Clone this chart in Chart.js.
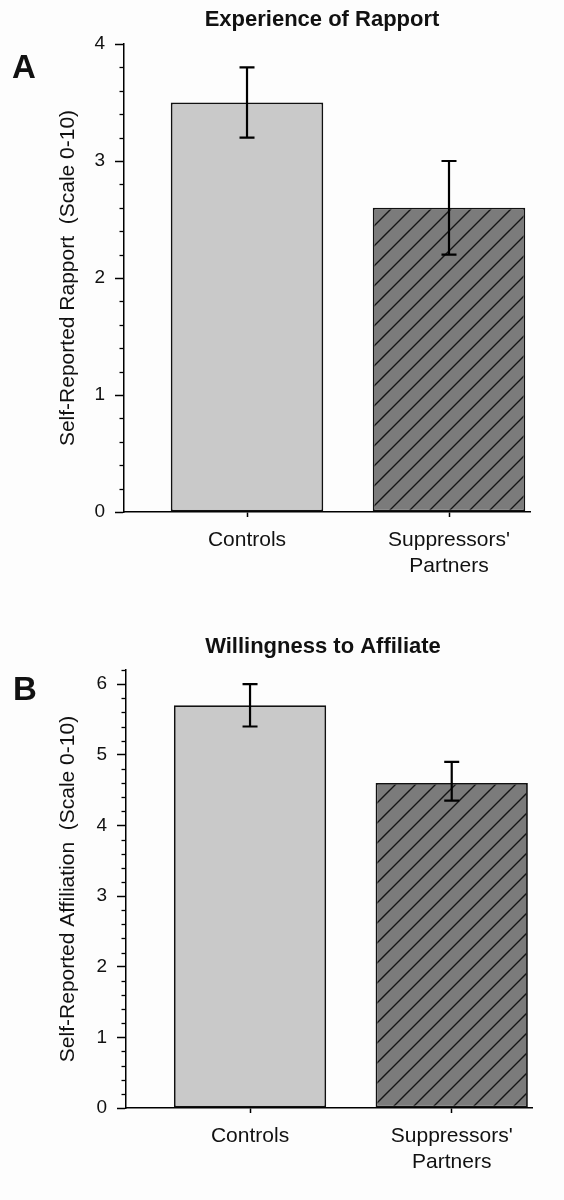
<!DOCTYPE html>
<html><head><meta charset="utf-8">
<script src="https://cdn.jsdelivr.net/npm/chart.js@4"></script>
<style>
html,body{margin:0;padding:0;background:#fdfdfd;}
#wrap{position:relative;width:564px;height:1200px;}
.box{position:absolute;left:0;width:564px;height:600px;}
</style></head><body>
<div id="wrap">
<div class="box" style="top:0"><canvas id="cA"></canvas></div>
<div class="box" style="top:600px"><canvas id="cB"></canvas></div>
</div>
<script>
// ---- data ----
const categories = ["Controls", ["Suppressors'", "Partners"]];
const rapportValues = [3.5, 2.6];
const rapportErrLow = [3.2, 2.2];
const rapportErrHigh = [3.8, 3.0];
const affiliationValues = [5.7, 4.6];
const affiliationErrLow = [5.4, 4.35];
const affiliationErrHigh = [6.0, 4.9];
const rapportTicks = [0, 1, 2, 3, 4];
const affiliationTicks = [0, 1, 2, 3, 4, 5, 6];
const titleA = "Experience of Rapport";
const titleB = "Willingness to Affiliate";
const yTitleA = "Self-Reported Rapport  (Scale 0-10)";
const yTitleB = "Self-Reported Affiliation  (Scale 0-10)";

const FONT = "'Liberation Sans', Arial, Helvetica, sans-serif";

function hatchPattern() {
  const s = 20;
  const c = document.createElement('canvas');
  c.width = s; c.height = s;
  const g = c.getContext('2d');
  g.fillStyle = '#7b7b7b';
  g.fillRect(0, 0, s, s);
  g.strokeStyle = '#151515';
  g.lineWidth = 1.4;
  g.beginPath();
  g.moveTo(-2, s + 2); g.lineTo(s + 2, -2);
  g.moveTo(-2, 2); g.lineTo(2, -2);
  g.moveTo(s - 2, s + 2); g.lineTo(s + 2, s - 2);
  g.stroke();
  return g.createPattern(c, 'repeat');
}

function makeChart(id, values, low, high, majorTicks, yMax, yTitle, title, letter, geo) {
  const isMajor = v => majorTicks.some(t => Math.abs(t - v) < 1e-6);
  const extras = {
    id: 'extras',
    afterDatasetsDraw(chart) {
      const ctx = chart.ctx, y = chart.scales.y;
      const meta = chart.getDatasetMeta(0);
      ctx.save();
      ctx.strokeStyle = '#000';
      ctx.lineWidth = 2.2;
      meta.data.forEach((bar, i) => {
        const x = bar.x;
        const yl = y.getPixelForValue(low[i]);
        const yh = y.getPixelForValue(high[i]);
        ctx.beginPath();
        ctx.moveTo(x, yl); ctx.lineTo(x, yh);
        ctx.moveTo(x - 7.5, yl); ctx.lineTo(x + 7.5, yl);
        ctx.moveTo(x - 7.5, yh); ctx.lineTo(x + 7.5, yh);
        ctx.stroke();
      });
      ctx.restore();
    },
    afterDraw(chart) {
      const ctx = chart.ctx, y = chart.scales.y, a = chart.chartArea;
      ctx.save();
      ctx.strokeStyle = '#000';
      ctx.lineWidth = 1.3;
      y.ticks.forEach(t => {
        if (!isMajor(t.value)) {
          const p = Math.round(y.getPixelForValue(t.value)) + 0.5;
          ctx.beginPath();
          ctx.moveTo(a.left - 4.5, p); ctx.lineTo(a.left, p);
          ctx.stroke();
        }
      });
      ctx.fillStyle = '#111';
      ctx.textAlign = 'center';
      ctx.textBaseline = 'alphabetic';
      ctx.font = "bold 22px " + FONT;
      ctx.fillText(title, geo.titleX, geo.titleY);
      ctx.textAlign = 'left';
      ctx.font = "bold 33px " + FONT;
      ctx.fillText(letter, geo.letterX, geo.letterY);
      ctx.restore();
    }
  };
  return new Chart(document.getElementById(id), {
    type: 'bar',
    data: {
      datasets: [{
        data: values.map((v, i) => ({ x: i, y: v })),
        backgroundColor: ['#c9c9c9', hatchPattern()],
        borderColor: '#111',
        borderWidth: 1.8,
        borderSkipped: false,
        barPercentage: 0.755,
        categoryPercentage: 1
      }]
    },
    options: {
      responsive: true,
      maintainAspectRatio: false,
      animation: false,
      layout: { padding: { left: 0, top: geo.top, right: 564 - geo.right, bottom: 0 } },
      plugins: { legend: { display: false }, tooltip: { enabled: false }, title: { display: false } },
      scales: {
        x: {
          type: 'linear',
          offset: false,
          min: geo.xMin, max: geo.xMax,
          afterFit: s => { s.height = 600 - geo.bottom; },
          afterBuildTicks: s => { s.ticks = categories.map((c, i) => ({ value: i })); },
          grid: { offset: false, drawOnChartArea: false, drawTicks: true, tickLength: 5, tickColor: '#000', tickWidth: 1.5 },
          border: { display: true, color: '#000', width: 1.5 },
          ticks: {
            autoSkip: false, maxRotation: 0, padding: 11, color: '#111',
            font: { family: FONT, size: 21 },
            callback: v => categories[Math.round(v)]
          }
        },
        y: {
          min: 0, max: yMax,
          afterFit: s => { s.width = geo.left; },
          grid: {
            drawOnChartArea: false, drawTicks: true, tickLength: 9, tickWidth: 1.5,
            tickColor: c => isMajor(c.tick.value) ? '#000' : 'rgba(0,0,0,0)'
          },
          border: { display: true, color: '#000', width: 1.5 },
          ticks: {
            stepSize: 0.2, autoSkip: false, padding: 10, color: '#111',
            font: { family: FONT, size: 19 },
            callback: v => isMajor(v) ? String(Math.round(v)) : ''
          },
          title: {
            display: true, text: yTitle, color: '#111',
            font: { family: FONT, size: 21 },
            padding: { top: 56, bottom: 0 }
          }
        }
      }
    },
    plugins: [extras]
  });
}

makeChart('cA', rapportValues, rapportErrLow, rapportErrHigh, rapportTicks, 4,
  yTitleA, titleA, 'A',
  { left: 124, right: 530, top: 44, bottom: 512, xMin: -0.609, xMax: 1.401,
    titleX: 322, titleY: 26, letterX: 12, letterY: 78 });
makeChart('cB', affiliationValues, affiliationErrLow, affiliationErrHigh, affiliationTicks, 6.2,
  yTitleB, titleB, 'B',
  { left: 126, right: 532, top: 70, bottom: 508, xMin: -0.615, xMax: 1.398,
    titleX: 323, titleY: 53, letterX: 13, letterY: 100 });
</script>
</body></html>
